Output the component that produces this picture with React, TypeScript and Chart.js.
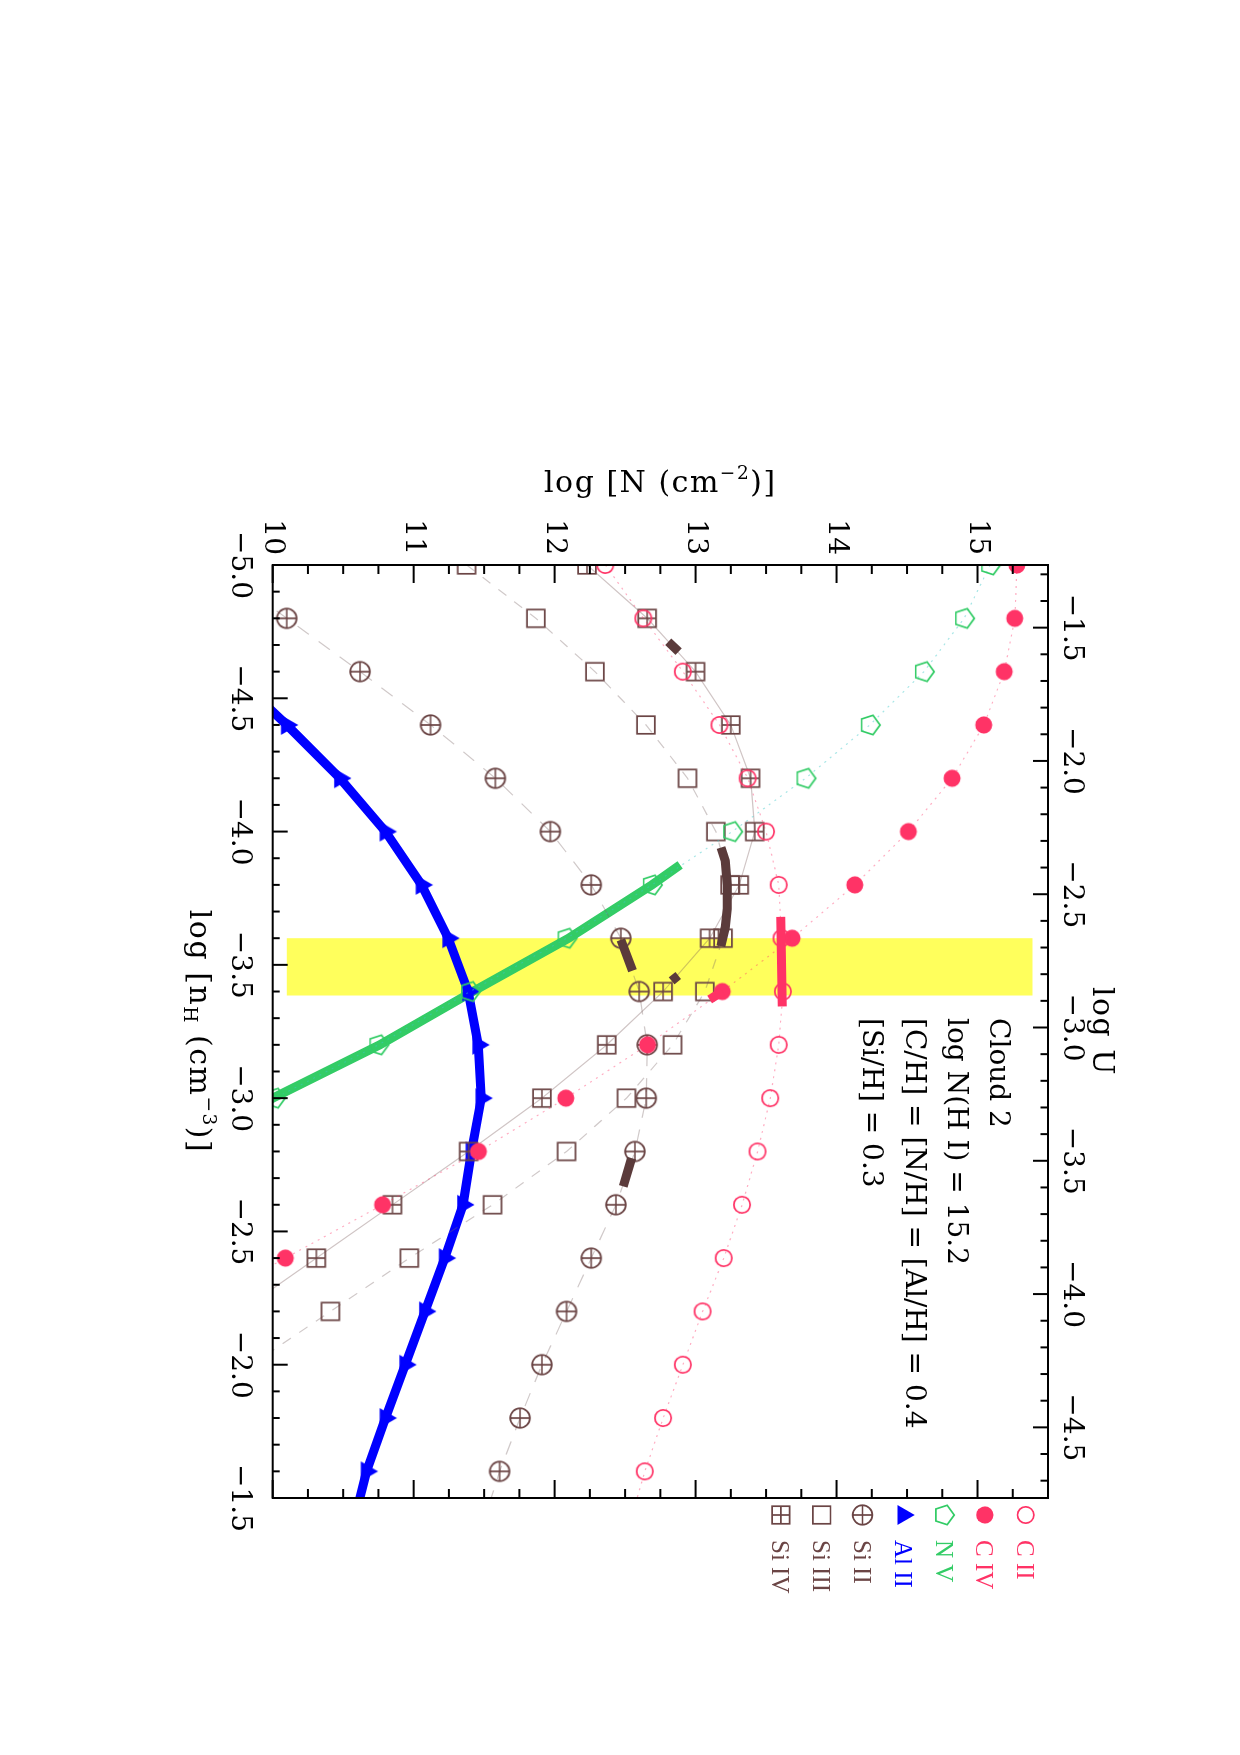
import React, { useEffect, useRef } from 'react';
import { Chart, registerables } from 'chart.js';

Chart.register(...registerables);

// ---------------- data ----------------
// model grid: log n_H (cm^-3)
const logNH = [-5.0, -4.8, -4.6, -4.4, -4.2, -4.0, -3.8, -3.6, -3.4, -3.2, -3.0, -2.8, -2.6, -2.4, -2.2, -2.0, -1.8, -1.6, -1.4];
// predicted column densities, log N (cm^-2)
const cII = [12.36, 12.63, 12.91, 13.17, 13.37, 13.5, 13.59, 13.61, 13.62, 13.59, 13.53, 13.44, 13.33, 13.2, 13.05, 12.91, 12.77, 12.64, 12.53];
const cIV = [15.28, 15.265, 15.19, 15.045, 14.82, 14.51, 14.13, 13.685, 13.19, 12.66, 12.08, 11.46, 10.78, 10.09, 9.4, null, null, null, null];
const nV = [15.09, 14.905, 14.62, 14.236, 13.78, 13.26, 12.69, 12.085, 11.4, 10.75, 10.016, 9.3, null, null, null, null, null, null, null];
const alII = [null, null, 9.7, 10.1, 10.477, 10.8, 11.056, 11.245, 11.387, 11.458, 11.48, 11.41, 11.35, 11.22, 11.08, 10.94, 10.8, 10.666, 10.57];
const siII = [9.58, 10.1, 10.62, 11.12, 11.58, 11.97, 12.26, 12.47, 12.6, 12.657, 12.65, 12.57, 12.435, 12.26, 12.085, 11.91, 11.755, 11.61, 11.49];
const siIII = [11.376, 11.867, 12.286, 12.648, 12.943, 13.144, 13.245, 13.195, 13.066, 12.837, 12.51, 12.085, 11.56, 10.97, 10.41, 9.85, null, null, null];
const siIV = [12.23, 12.657, 13.0, 13.25, 13.39, 13.42, 13.31, 13.1, 12.77, 12.37, 11.91, 11.39, 10.85, 10.31, 9.77, null, null, null, null];

// observed (thick) segments: [log nH, log N]
const cIIObs = [[-3.68, 13.605], [-3.344, 13.614]];
const cIVObs = [[-3.4, 13.19], [-3.37, 13.1]];
const nVObs = [[-3.875, 12.89], [-3.8, 12.69], [-3.6, 12.1], [-3.4, 11.42], [-3.2, 10.76], [-3.0, 10.0], [-2.95, 9.83]];
const siIIObsA = [[-3.594, 12.47], [-3.478, 12.553]];
const siIIObsB = [[-2.775, 12.546], [-2.669, 12.487]];
const siIIIObs = [[-3.94, 13.18], [-3.89, 13.21], [-3.8, 13.225], [-3.71, 13.225], [-3.64, 13.21], [-3.57, 13.18]];
const siIVObsA = [[-4.712, 12.806], [-4.675, 12.88]];
const siIVObsB = [[-3.46, 12.877], [-3.44, 12.83]];

// axes
const nHTicks = [-5.0, -4.5, -4.0, -3.5, -3.0, -2.5, -2.0, -1.5];
const logNTicks = [10, 11, 12, 13, 14, 15];
const logUTicks = [-1.5, -2.0, -2.5, -3.0, -3.5, -4.0, -4.5];
const logUOffset = -6.265; // log U = offset - log nH

// highlighted band
const bandNH = [-3.6, -3.385];
const bandLogN = [10.1, 15.39];

const noteLines = ['Cloud 2', 'log N(H I) = 15.2', '[C/H] = [N/H] = [Al/H] = 0.4', '[Si/H] = 0.3'];
const legendLabels = ['C II', 'C IV', 'N V', 'Al II', 'Si II', 'Si III', 'Si IV'];

// ---------------- styles ----------------
const W = 1200;
const H = 1000;
const RED = '#ff3366';
const GREEN = '#33cc66';
const BLUE = '#0000ff';
const BROWN = '#6b4545';
const BROWN_THICK = '#5b3b3b';
const SERIF = '"DejaVu Serif"';

type Kind = 'ocircle' | 'fcircle' | 'pentagon' | 'triangle' | 'oplus' | 'square' | 'boxplus';
const legendKinds: Kind[] = ['ocircle', 'fcircle', 'pentagon', 'triangle', 'oplus', 'square', 'boxplus'];
const legendColors = [RED, RED, GREEN, BLUE, BROWN, BROWN, BROWN];

function drawSym(ctx: CanvasRenderingContext2D, kind: Kind, cx: number, cy: number, color: string) {
  ctx.save();
  ctx.strokeStyle = color;
  ctx.fillStyle = color;
  ctx.lineWidth = 1.7;
  ctx.beginPath();
  if (kind === 'ocircle') {
    ctx.arc(cx, cy, 8.2, 0, Math.PI * 2);
    ctx.stroke();
  } else if (kind === 'fcircle') {
    ctx.arc(cx, cy, 8.6, 0, Math.PI * 2);
    ctx.fill();
  } else if (kind === 'pentagon') {
    for (let k = 0; k < 5; k++) {
      const a = -Math.PI / 2 + (k * 2 * Math.PI) / 5;
      const px = cx + 10.2 * Math.cos(a);
      const py = cy + 10.2 * Math.sin(a);
      if (k === 0) ctx.moveTo(px, py);
      else ctx.lineTo(px, py);
    }
    ctx.closePath();
    ctx.stroke();
  } else if (kind === 'triangle') {
    const r = 11.5;
    for (let k = 0; k < 3; k++) {
      const a = -Math.PI / 2 + (k * 2 * Math.PI) / 3;
      const px = cx + r * Math.cos(a);
      const py = cy + r * Math.sin(a);
      if (k === 0) ctx.moveTo(px, py);
      else ctx.lineTo(px, py);
    }
    ctx.closePath();
    ctx.fill();
  } else if (kind === 'oplus') {
    ctx.arc(cx, cy, 9.8, 0, Math.PI * 2);
    ctx.moveTo(cx - 9.8, cy);
    ctx.lineTo(cx + 9.8, cy);
    ctx.moveTo(cx, cy - 9.8);
    ctx.lineTo(cx, cy + 9.8);
    ctx.stroke();
  } else if (kind === 'square' || kind === 'boxplus') {
    const s = 8.8;
    ctx.rect(cx - s, cy - s, 2 * s, 2 * s);
    if (kind === 'boxplus') {
      ctx.moveTo(cx - s, cy);
      ctx.lineTo(cx + s, cy);
      ctx.moveTo(cx, cy - s);
      ctx.lineTo(cx, cy + s);
    }
    ctx.stroke();
  }
  ctx.restore();
}

function symCanvas(kind: Kind, color: string) {
  const c = document.createElement('canvas');
  c.width = 30;
  c.height = 30;
  const ctx = c.getContext('2d') as CanvasRenderingContext2D;
  drawSym(ctx, kind, 15, 15, color);
  return c;
}

const pts = (arr: (number | null)[]) => logNH.map((x, i) => ({ x, y: arr[i] }));
const pairs = (arr: number[][]) => arr.map(([x, y]) => ({ x, y }));
const fmt = (v: number) => (v < 0 ? '\u2212' : '') + Math.abs(v).toFixed(1);

type Seg = { t: string; sup?: boolean; sub?: boolean };
function richText(ctx: CanvasRenderingContext2D, segs: Seg[], size: number, cx: number, by: number) {
  const parts = segs.map((s) => {
    const fs = s.sup || s.sub ? size * 0.62 : size;
    ctx.font = `${fs}px ${SERIF}`;
    return { ...s, fs, w: ctx.measureText(s.t).width };
  });
  const total = parts.reduce((a, p) => a + p.w, 0);
  let x = cx - total / 2;
  ctx.textAlign = 'left';
  ctx.textBaseline = 'alphabetic';
  for (const p of parts) {
    ctx.font = `${p.fs}px ${SERIF}`;
    const dy = p.sup ? -size * 0.45 : p.sub ? size * 0.2 : 0;
    ctx.fillText(p.t, x, by + dy);
    x += p.w;
  }
}

const framePlugin = {
  id: 'frame',
  beforeDatasetsDraw(chart: any) {
    const { ctx, scales } = chart;
    const x = scales.x;
    const y = scales.y;
    const x0 = x.getPixelForValue(bandNH[0]);
    const x1 = x.getPixelForValue(bandNH[1]);
    const y0 = y.getPixelForValue(bandLogN[1]);
    const y1 = y.getPixelForValue(bandLogN[0]);
    ctx.save();
    ctx.fillStyle = '#ffff5c';
    ctx.fillRect(x0, y0, x1 - x0, y1 - y0);
    ctx.restore();
  },
  afterDraw(chart: any) {
    const { ctx, scales, chartArea: ca } = chart;
    const x = scales.x;
    const x2 = scales.x2;
    const y = scales.y;
    ctx.save();
    ctx.strokeStyle = '#000';
    ctx.lineWidth = 2;
    const line = (a: number, b: number, c: number, d: number) => {
      ctx.beginPath();
      ctx.moveTo(a, b);
      ctx.lineTo(c, d);
      ctx.stroke();
    };
    // bottom: log nH ticks
    for (let i = -50; i <= -15; i++) {
      const px = x.getPixelForValue(i / 10);
      const L = i % 5 === 0 ? 15 : 7;
      line(px, ca.bottom, px, ca.bottom - L);
    }
    // top: log U ticks
    for (let i = -48; i <= -12; i++) {
      const px = x2.getPixelForValue(i / 10);
      if (px < ca.left + 1 || px > ca.right - 1) continue;
      const L = i % 5 === 0 ? 15 : 7.5;
      line(px, ca.top, px, ca.top + L);
    }
    // left & right: log N ticks
    for (let i = 40; i <= 62; i++) {
      const py = y.getPixelForValue(i / 4);
      if (py < ca.top + 1) continue;
      const L = i % 4 === 0 ? 18 : 9;
      line(ca.left, py, ca.left + L, py);
      line(ca.right, py, ca.right - L, py);
    }
    ctx.lineWidth = 2;
    ctx.strokeRect(ca.left, ca.top, ca.right - ca.left, ca.bottom - ca.top);

    // axis titles
    ctx.fillStyle = '#000';
    const cu = (ca.left + ca.right) / 2;
    const cv = (ca.top + ca.bottom) / 2;
    (ctx as any).letterSpacing = '1.5px';
    ctx.save();
    ctx.translate(ca.left - 73, cv);
    ctx.rotate(-Math.PI / 2);
    richText(ctx, [{ t: 'log [N (cm' }, { t: '\u22122', sup: true }, { t: ')]' }], 30, 0, 0);
    ctx.restore();
    richText(ctx, [{ t: 'log [n' }, { t: 'H', sub: true }, { t: ' (cm' }, { t: '\u22123', sup: true }, { t: ')]' }], 30, cu, ca.bottom + 83);
    richText(ctx, [{ t: 'log U' }], 30, cu, ca.top - 45);
    (ctx as any).letterSpacing = '0px';

    // annotation
    ctx.font = `28px ${SERIF}`;
    ctx.textAlign = 'left';
    ctx.textBaseline = 'alphabetic';
    noteLines.forEach((t, i) => {
      ctx.fillText(t, ca.left + 453, ca.top + 58 + i * 42.2);
    });

    // legend
    legendLabels.forEach((lab, i) => {
      const u = ca.right + 17;
      const v = ca.top + 22.3 + i * 40.8;
      drawSym(ctx, legendKinds[i], u, v, legendColors[i]);
      ctx.font = '25px "Liberation Serif"';
      ctx.fillStyle = legendColors[i];
      ctx.textAlign = 'left';
      ctx.textBaseline = 'alphabetic';
      ctx.fillText(lab, ca.right + 42, v + 8.5);
    });
    ctx.restore();
  },
};

export default function App() {
  const ref = useRef<HTMLCanvasElement>(null);
  useEffect(() => {
    const canvas = ref.current;
    if (!canvas) return;
    const sym = {
      cII: symCanvas('ocircle', RED),
      cIV: symCanvas('fcircle', RED),
      nV: symCanvas('pentagon', GREEN),
      alII: symCanvas('triangle', BLUE),
      siII: symCanvas('oplus', BROWN),
      siIII: symCanvas('square', BROWN),
      siIV: symCanvas('boxplus', BROWN),
    };
    const model = (data: (number | null)[], lineColor: string, dash: number[], style: any, order: number) => ({
      data: pts(data),
      borderColor: lineColor,
      borderWidth: 1.2,
      borderDash: dash,
      pointStyle: style,
      pointRadius: 10,
      pointHoverRadius: 10,
      fill: false,
      tension: 0,
      clip: 0,
      order,
      spanGaps: false,
    });
    const thick = (data: number[][], color: string, width: number, order: number) => ({
      data: pairs(data),
      borderColor: color,
      borderWidth: width,
      borderCapStyle: 'butt',
      pointRadius: 0,
      pointHoverRadius: 0,
      fill: false,
      tension: 0,
      clip: 0,
      order,
    });
    const datasets: any[] = [
      thick(cIIObs, RED, 9, 1),
      thick(cIVObs, RED, 9, 1),
      thick(siIIIObs, BROWN_THICK, 9, 1),
      thick(siIIObsA, BROWN_THICK, 9, 1),
      thick(siIIObsB, BROWN_THICK, 9, 1),
      thick(siIVObsA, BROWN_THICK, 9, 1),
      thick(siIVObsB, BROWN_THICK, 9, 1),
      model(cII, 'rgba(255,51,102,0.4)', [2, 5], sym.cII, 3),
      model(cIV, 'rgba(255,51,102,0.4)', [2, 5], sym.cIV, 3),
      model(nV, 'rgba(60,200,200,0.45)', [2, 5], sym.nV, 3),
      model(siII, 'rgba(120,100,100,0.35)', [14, 12], sym.siII, 3),
      model(siIII, 'rgba(120,100,100,0.35)', [10, 10], sym.siIII, 3),
      model(siIV, 'rgba(120,90,90,0.35)', [], sym.siIV, 3),
      {
        ...model(alII, BLUE, [], sym.alII, 5),
        borderWidth: 9,
      },
      thick(nVObs, GREEN, 9, 6),
    ];
    const tickFont = { family: SERIF, size: 28 };
    const chart = new Chart(canvas, {
      type: 'line',
      data: { datasets },
      options: {
        animation: false,
        responsive: false,
        devicePixelRatio: 1,
        events: [],
        layout: { padding: { left: 0, top: 0, bottom: 0, right: 142 } },
        plugins: { legend: { display: false }, tooltip: { enabled: false } },
        scales: {
          x: {
            type: 'linear',
            position: 'bottom',
            min: -5,
            max: -1.5,
            grid: { display: false, drawTicks: false },
            border: { display: false },
            afterBuildTicks: (s: any) => {
              s.ticks = nHTicks.map((v) => ({ value: v }));
            },
            afterFit: (s: any) => {
              s.height = 122.7;
            },
            ticks: { font: tickFont, color: '#000', padding: 17, maxRotation: 0, minRotation: 0, autoSkip: false, callback: (v: any) => fmt(Number(v)) },
          },
          x2: {
            type: 'linear',
            axis: 'x',
            position: 'top',
            reverse: true,
            min: logUOffset + 1.5,
            max: logUOffset + 5,
            grid: { display: false, drawTicks: false },
            border: { display: false },
            afterBuildTicks: (s: any) => {
              s.ticks = logUTicks.map((v) => ({ value: v }));
            },
            afterFit: (s: any) => {
              s.height = 102;
            },
            ticks: { font: tickFont, color: '#000', padding: 6, maxRotation: 0, minRotation: 0, autoSkip: false, callback: (v: any) => fmt(Number(v)) },
          },
          y: {
            type: 'linear',
            position: 'left',
            min: 10,
            max: 15.5,
            grid: { display: false, drawTicks: false },
            border: { display: false },
            afterBuildTicks: (s: any) => {
              s.ticks = logNTicks.map((v) => ({ value: v }));
            },
            afterFit: (s: any) => {
              s.width = 125;
            },
            ticks: { font: tickFont, color: '#000', padding: 10, autoSkip: false, callback: (v: any) => String(Math.round(Number(v))) },
          },
        },
      } as any,
      plugins: [framePlugin],
    });
    return () => chart.destroy();
  }, []);
  return (
    <div
      style={{
        position: 'absolute',
        left: 150,
        top: 440,
        width: W,
        height: H,
        transformOrigin: '0 0',
        transform: `translate(${H}px, 0px) rotate(90deg)`,
      }}
    >
      <canvas ref={ref} width={W} height={H} style={{ width: W, height: H, display: 'block' }} />
    </div>
  );
}
